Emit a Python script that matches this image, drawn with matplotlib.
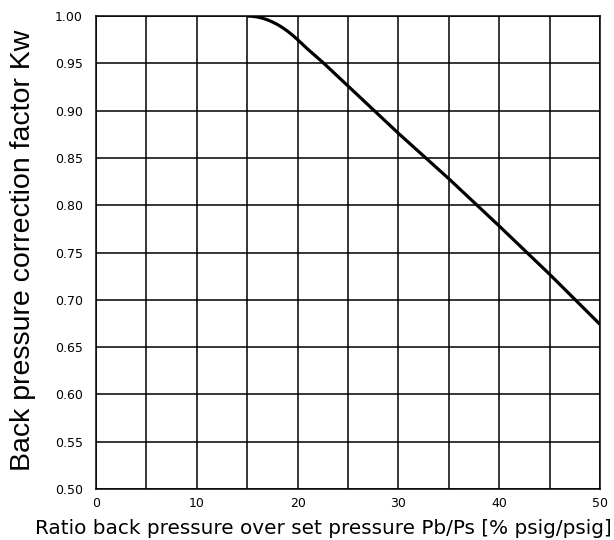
import matplotlib
matplotlib.use('Agg')
import matplotlib.pyplot as plt

# values
ratio = [15, 15.5, 16, 16.5, 17, 17.5, 18, 18.5, 19, 19.5, 20, 21, 22.5, 25, 30, 35, 40, 45, 50]
kw = [1.0, 0.9997, 0.999, 0.9977, 0.996, 0.9937, 0.991, 0.9877, 0.984, 0.9797, 0.975,
      0.965, 0.951, 0.926, 0.876, 0.828, 0.778, 0.727, 0.674]

x_ticks = [0, 10, 20, 30, 40, 50]
y_ticks = [0.50, 0.55, 0.60, 0.65, 0.70, 0.75, 0.80, 0.85, 0.90, 0.95, 1.00]

fig = plt.figure(figsize=(6.14, 5.40), dpi=100)
ax = fig.add_axes([96 / 614, 51 / 540, 504 / 614, 473 / 540])

ax.set_xlim(0, 50)
ax.set_ylim(0.5, 1.0)
ax.set_xticks(range(0, 51, 5))
ax.set_xticklabels([str(t) if t in x_ticks else '' for t in range(0, 51, 5)], fontsize=9)
ax.set_yticks(y_ticks)
ax.set_yticklabels(['%.2f' % v for v in y_ticks], fontsize=9)
ax.tick_params(axis='y', length=0, pad=9.5)
ax.tick_params(axis='x', length=0, pad=6)
ax.grid(True, color='black', linewidth=1.1)
for s in ax.spines.values():
    s.set_linewidth(1.1)

ax.plot(ratio, kw, color='black', linewidth=2.3, solid_capstyle='butt', solid_joinstyle='round')

fig.text(23 / 614, 0.537, 'Back pressure correction factor Kw', fontsize=20.5,
         family='Liberation Sans', rotation=90, ha='center', va='center')
fig.text(0.526, 11 / 540, 'Ratio back pressure over set pressure Pb/Ps [% psig/psig]',
         fontsize=14.4, ha='center', va='center')

fig.savefig('out.png', dpi=100)
